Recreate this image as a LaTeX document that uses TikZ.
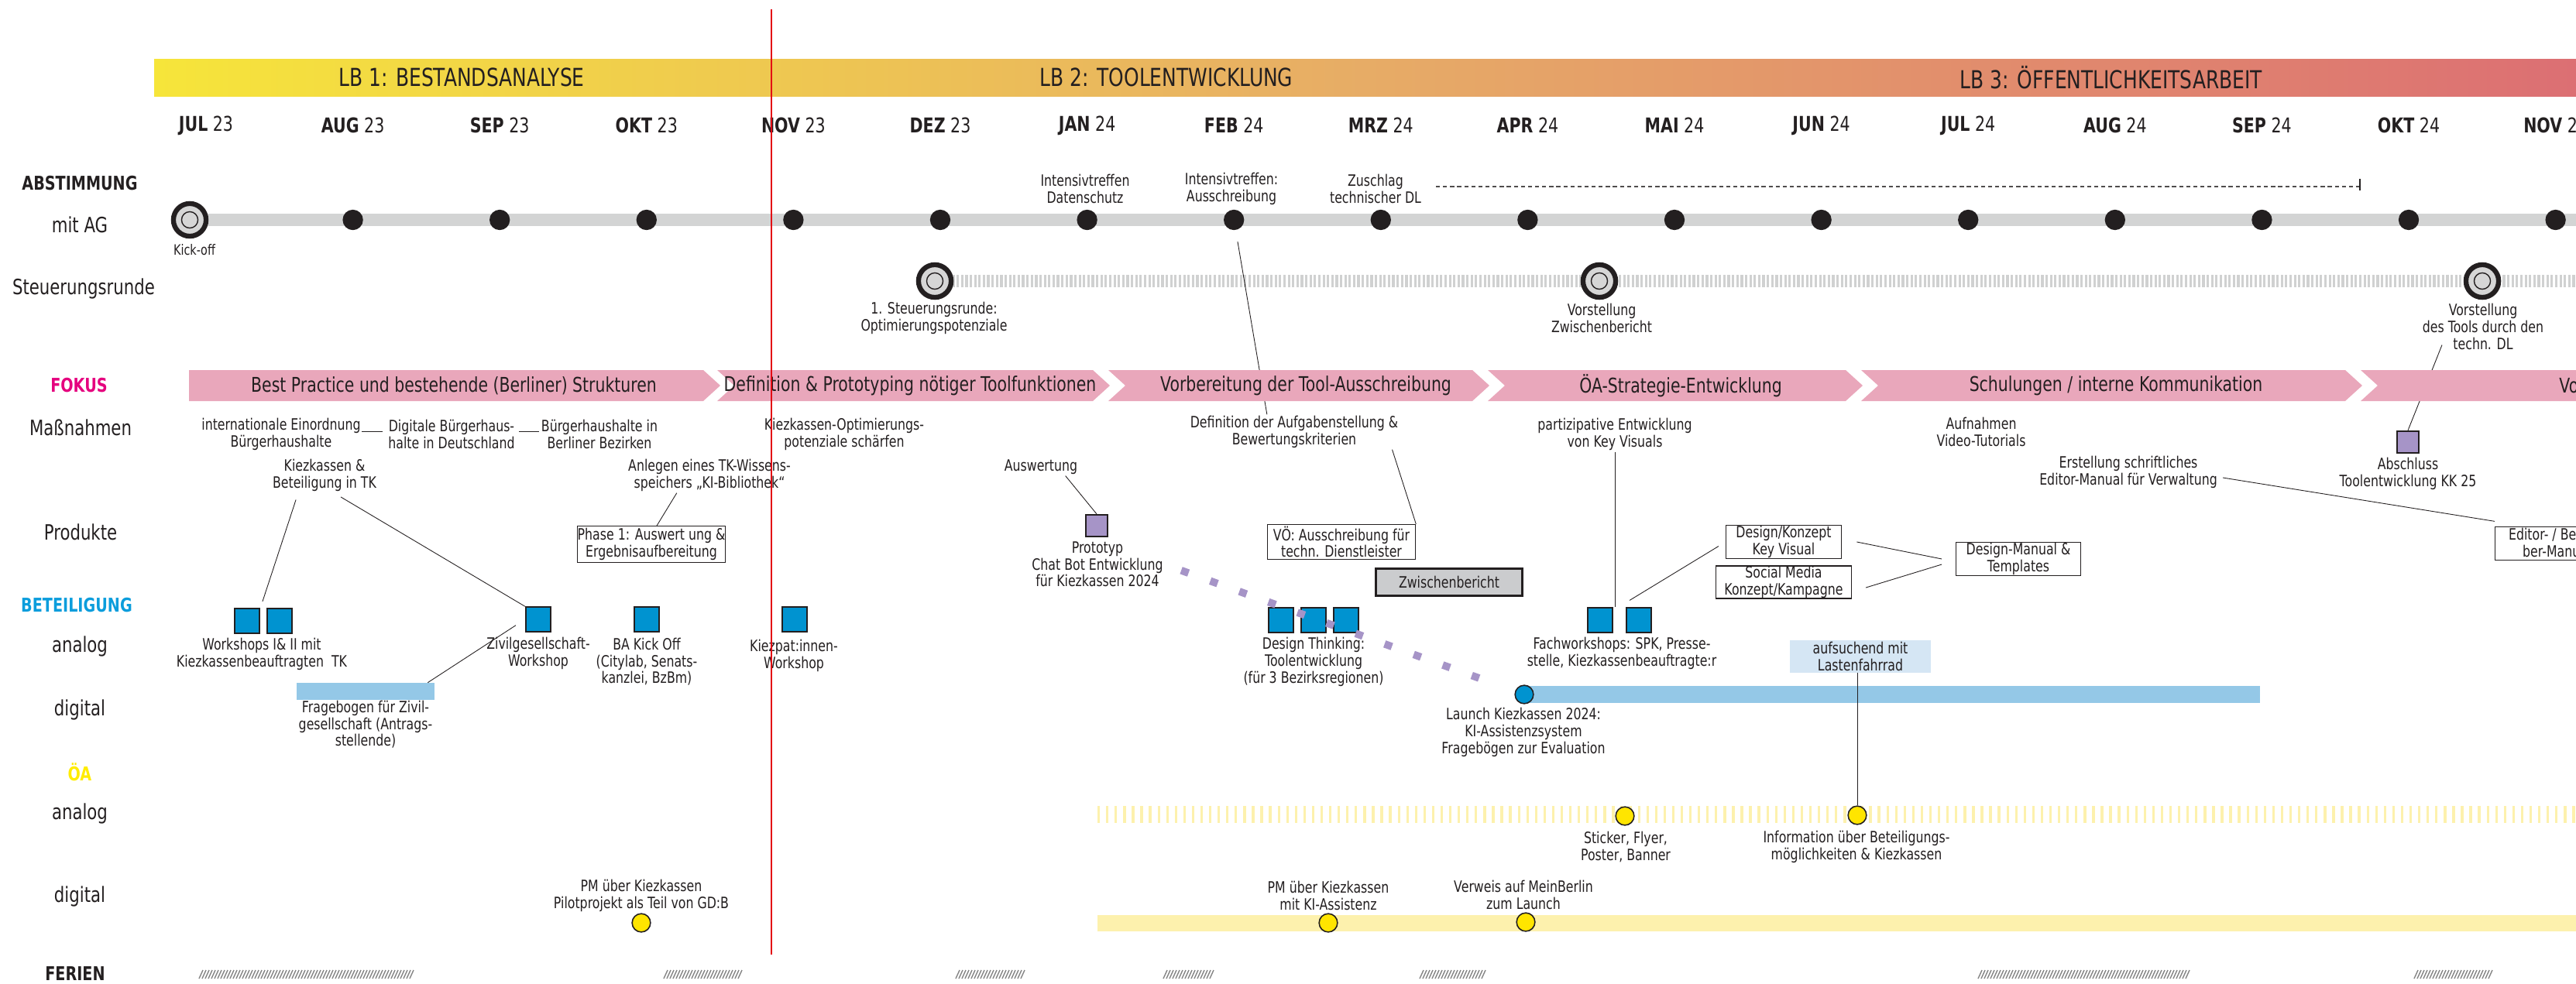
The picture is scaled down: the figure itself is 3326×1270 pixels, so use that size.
\documentclass[tikz,border=0pt]{standalone}
\usepackage{fontspec}
\setmainfont{DejaVu Sans}[FakeStretch=0.78]
\usetikzlibrary{positioning}

\definecolor{tx}{HTML}{231F20}
\definecolor{agrau}{HTML}{D3D4D4}
\definecolor{sgrau}{HTML}{D0D1D1}
\definecolor{zielgrau}{HTML}{D6D6D6}
\definecolor{rosa}{HTML}{E9A7BB}
\definecolor{blau}{HTML}{0093D0}
\definecolor{hellblau}{HTML}{94C8E7}
\definecolor{lastblau}{HTML}{D5E6F4}
\definecolor{lila}{HTML}{A694C7}
\definecolor{gelb}{HTML}{FFE500}
\definecolor{blassgelb}{HTML}{FDF1AD}
\definecolor{fokmag}{HTML}{E5007E}
\definecolor{betcyan}{HTML}{0B9DDC}
\definecolor{oagelb}{HTML}{FFEC00}
\definecolor{rot}{HTML}{E30613}
\definecolor{schraffur}{HTML}{858585}
\definecolor{boxgrau}{HTML}{CBCCCE}
\definecolor{lbgelb}{HTML}{F6E53A}
\definecolor{lborange}{HTML}{E7AC66}
\definecolor{lbrot}{HTML}{DC6F73}

\newcommand\fbody{\fontsize{11.5}{12.3}\selectfont}
\newcommand\fklein{\fontsize{10.5}{12}\selectfont}
\newcommand\freihe{\fontsize{15.5}{17}\selectfont}
\newcommand\freihefett{\fontsize{14}{16}\selectfont\bfseries}
\newcommand\fmonat{\fontsize{15}{17}\selectfont}
\newcommand\ffokus{\fontsize{14.9}{17}\selectfont}
\newcommand\fkopf{\fontsize{18.2}{20}\selectfont}

\tikzset{
  txt/.style={font=\fbody, align=center, inner sep=1pt, text=tx},
  reihe/.style={font=\freihe, inner sep=0pt, text=tx},
  reihefett/.style={font=\freihefett, inner sep=0pt},
  monat/.style={font=\fmonat, text=tx},
  kopf/.style={font=\fkopf, text=tx},
  fok/.style={font=\ffokus, text=tx},
  kasten/.style={draw=tx, line width=0.6pt, fill=white, font=\fbody, align=center, inner sep=0pt, text=tx},
  quad/.style={draw=tx, line width=1.1pt, fill=blau, minimum width=18.5pt, minimum height=18pt, inner sep=0pt},
  lquad/.style={quad, fill=lila, minimum width=16pt, minimum height=16pt},
  punkt/.style={circle, fill=tx, minimum size=15pt, inner sep=0pt},
  gpunkt/.style={circle, draw=tx, line width=0.9pt, fill=gelb, minimum size=13.5pt, inner sep=0pt},
  bpunkt/.style={gpunkt, fill=blau},
  ziel/.style={circle, draw=tx, line width=3.6pt, fill=zielgrau, minimum size=24pt, inner sep=0pt,
    path picture={\draw[tx, line width=0.8pt] (path picture bounding box.center) circle (6pt);}},
  verb/.style={draw=tx, line width=0.5pt},
}

\begin{document}
\begin{tikzpicture}[x=0.2mm, y=-0.2mm]
\useasboundingbox (0,0) rectangle (3326,1270);
\clip (0,0) rectangle (3326,1270);

% Kopfzeile
\shade[left color=lbgelb, right color=lbrot, middle color=lborange] (199,76) rectangle (3326,124);
\node[kopf] (lb1) at (596,100) {LB 1: BESTANDSANALYSE};
\node[kopf] (lb2) at (1506,100) {LB 2: TOOLENTWICKLUNG};
\node[kopf] (lb3) at (2726,100) {LB 3: ÖFFENTLICHKEITSARBEIT};

\foreach \mo/\ja [count=\i from 0] in {JUL/23, AUG/23, SEP/23, OKT/23, NOV/23, DEZ/23, JAN/24, FEB/24, MRZ/24, APR/24, MAI/24, JUN/24, JUL/24, AUG/24, SEP/24, OKT/24, NOV/24}
  \node[monat] (m\i) at ({266+189.6*\i},162) {\textbf{\mo} \ja};

% Zeilen
\node[reihefett, text=tx] (rAbst) at (103,237) {ABSTIMMUNG};
\node[reihe] (rAG) at (103,290) {mit AG};
\node[reihe] (rSteu) at (108,373) {Steuerungsrunde};
\node[reihefett, text=fokmag] (rFok) at (102,498) {FOKUS};
\node[reihe] (rMass) at (104,552) {Maßnahmen};
\node[reihe] (rProd) at (104,687) {Produkte};
\node[reihefett, text=betcyan] (rBet) at (99,782) {BETEILIGUNG};
\node[reihe] (rAna) at (103,835) {analog};
\node[reihe] (rDig) at (103,917) {digital};
\node[reihefett, text=oagelb] (rOA) at (103,997) {ÖA};
\node[reihe] (rAna2) at (103,1051) {analog};
\node[reihe] (rDig2) at (103,1158) {digital};
\node[reihefett, text=tx] (rFer) at (97,1258) {FERIEN};

% Abstimmung mit AG
\draw[agrau, line width=9.1pt] (245,284) -- (3326,284);
\node[ziel] (kick) at (245,284) {};
\node[txt, font=\fklein] (kickl) at (251,323) {Kick-off};
\foreach \i in {1,...,16}
  \node[punkt] (ag\i) at ({266+189.6*\i},284) {};
\node[txt] (intD) at (1401,244) {Intensivtreffen\\Datenschutz};
\node[txt] (intA) at (1590,244) {Intensivtreffen:\\Ausschreibung};
\node[txt] (zus) at (1776,244) {Zuschlag\\technischer DL};
\draw[tx!80, line width=0.6pt, dash pattern=on 3pt off 2.2pt] (1854,241) -- (3047,241);
\draw[tx, line width=1.4pt] (3047,231) -- (3047,246);

% Steuerungsrunde
\draw[sgrau, line width=9.1pt, dash pattern=on 1.8pt off 1.4pt] (1207,363) -- (3326,363);
\node[ziel] (sr1) at (1207,363) {};
\node[ziel] (sr2) at (2065,363) {};
\node[ziel] (sr3) at (3205,363) {};
\node[txt] (sr1l) at (1206,411) {1. Steuerungsrunde:\\Optimierungspotenziale};
\node[txt] (sr2l) at (2068,411) {Vorstellung\\Zwischenbericht};
\node[txt] (sr3l) at (3206,422) {Vorstellung\\des Tools durch den\\techn. DL};

% Massnahmen und Produkte
\node[txt] (intl) at (363,561) {internationale Einordnung\\Bürgerhaushalte};
\node[txt] (digB) at (583,561) {Digitale Bürgerhaus-\\halte in Deutschland};
\node[txt] (bzb) at (774,561) {Bürgerhaushalte in\\Berliner Bezirken};
\draw[verb] (467,557) -- (494,557);
\draw[verb] (670,557) -- (696,557);
\node[txt] (kiez) at (419,614) {Kiezkassen \&\\Beteiligung in TK};
\node[txt] (anl) at (916,614) {Anlegen eines TK-Wissens-\\speichers „KI-Bibliothek“};
\node[txt] (kop) at (1090,561) {Kiezkassen-Optimierungs-\\potenziale schärfen};
\node[txt] (ausw) at (1344,603) {Auswertung};
\node[txt] (defin) at (1671,558) {Definition der Aufgabenstellung \&\\Bewertungskriterien};
\node[txt] (partiz) at (2085,561) {partizipative Entwicklung\\von Key Visuals};
\node[txt] (aufn) at (2558,558) {Aufnahmen\\Video-Tutorials};
\node[txt] (erst) at (2748,610) {Erstellung schriftliches\\Editor-Manual für Verwaltung};
\node[lquad] (absch) at (3109,571) {};
\node[txt] (abschl) at (3109,612) {Abschluss\\Toolentwicklung KK 25};

\node[kasten, minimum width=108pt, minimum height=26.7pt] (ph1) at (841,703) {Phase 1: Auswert ung \&\\Ergebnisaufbereitung};
\node[lquad] (proto) at (1416,679) {};
\node[txt] (protol) at (1417,729) {Prototyp\\Chat Bot Entwicklung\\für Kiezkassen 2024};
\node[kasten, minimum width=109pt, minimum height=25.6pt] (voe) at (1732,700) {VÖ: Ausschreibung für\\techn. Dienstleister};
\node[kasten, fill=boxgrau, line width=1.6pt, minimum width=107.5pt, minimum height=19.5pt] (zwb) at (1871,752) {Zwischenbericht};
\node[kasten, minimum width=84.8pt, minimum height=24.5pt] (dk) at (2303,700) {Design/Konzept\\Key Visual};
\node[kasten, minimum width=100pt, minimum height=23.9pt] (sm) at (2303,752) {Social Media\\Konzept/Kampagne};
\node[kasten, minimum width=92pt, minimum height=24.5pt] (dm) at (2606,722) {Design-Manual \&\\Templates};
\node[kasten, anchor=west, minimum width=80pt, minimum height=24pt] (ed) at (3221,702) {};
\node[txt, anchor=west] (edt1) at (3237,691) {Editor- / Be};
\node[txt, anchor=west] (edt2) at (3255,712) {ber-Manu};

\draw[verb, shorten <=8.5pt] (ag7) -- ([xshift=-20pt]defin.north);
\draw[verb] (sr3l.south) ++(-53,-8) -- (absch.north);

% Fokus
\fill[rosa] (244,478) -- (908,478) -- (930,498) -- (908,518) -- (244,518) -- cycle;
\foreach \l/\r in {926/1411, 1431/1901, 1921/2383, 2403/3028}
  \fill[rosa] (\l,478) -- (\r,478) -- (\r+22,498) -- (\r,518) -- (\l,518) -- (\l+22,498) -- cycle;
\fill[rosa] (3048,478) -- (3340,478) -- (3340,518) -- (3048,518) -- (3070,498) -- cycle;
\node[fok] (fk1) at (586,498) {Best Practice und bestehende (Berliner) Strukturen};
\node[fok] (fk2) at (1175,498) {Definition \& Prototyping nötiger Toolfunktionen};
\node[fok] (fk3) at (1686,498) {Vorbereitung der Tool-Ausschreibung};
\node[fok] (fk4) at (2170,498) {ÖA-Strategie-Entwicklung};
\node[fok] (fk5) at (2732,498) {Schulungen / interne Kommunikation};
\node[fok, anchor=west, inner sep=0pt] (fk6) at (3304,498) {Vo};

% Beteiligung analog
\node[quad] (ws1) at (319,802) {};
\node[quad] (ws2) at (361,802) {};
\node[quad] (ziv) at (695,800) {};
\node[quad] (ba) at (835,800) {};
\node[quad] (kp) at (1026,800) {};
\node[quad] (dt1) at (1654,801) {};
\node[quad] (dt2) at (1696,801) {};
\node[quad] (dt3) at (1738,801) {};
\node[quad] (fw1) at (2066,801) {};
\node[quad] (fw2) at (2116,801) {};
\node[txt] (wsl) at (338,845) {Workshops I\& II mit\\Kiezkassenbeauftragten~ TK};
\node[txt] (zivl) at (695,844) {Zivilgesellschaft-\\Workshop};
\node[txt] (bal) at (835,855) {BA Kick Off\\(Citylab, Senats-\\kanzlei, BzBm)};
\node[txt] (kpl) at (1025,847) {Kiezpat:innen-\\Workshop};
\node[txt] (dtl) at (1696,855) {Design Thinking:\\Toolentwicklung\\(für 3 Bezirksregionen)};
\node[txt] (fwl) at (2094,844) {Fachworkshops: SPK, Presse-\\stelle, Kiezkassenbeauftragte:r};

% Beteiligung digital
\node[fill=hellblau, minimum width=101pt, minimum height=12.5pt, inner sep=0pt] (fb) at (472,893) {};
\node[txt] (fbl) at (472,936) {Fragebogen für Zivil-\\gesellschaft (Antrags-\\stellende)};
\fill[hellblau] (1968,886) rectangle (2918,908);
\node[bpunkt] (launch) at (1968,897) {};
\node[txt] (lal) at (1967,946) {Launch Kiezkassen 2024:\\KI-Assistenzsystem\\Fragebögen zur Evaluation};
\node[fill=lastblau, minimum width=104pt, minimum height=24pt, inner sep=0pt, font=\fbody, align=center, text=tx] (lb) at (2402,848) {aufsuchend mit\\Lastenfahrrad};

% OeA
\draw[blassgelb, line width=12pt, dash pattern=on 1.9pt off 4.4pt] (1417,1052) -- (3326,1052);
\fill[blassgelb] (1417,1182) rectangle (3326,1203);
\node[gpunkt] (stick) at (2098,1054) {};
\node[gpunkt] (info) at (2398,1053) {};
\node[txt] (stl) at (2099,1094) {Sticker, Flyer,\\Poster, Banner};
\node[txt] (infl) at (2397,1094) {Information über Beteiligungs-\\möglichkeiten \& Kiezkassen};
\node[gpunkt] (pm1) at (828,1192) {};
\node[gpunkt] (pm2) at (1715,1192) {};
\node[gpunkt] (verw) at (1970,1191) {};
\node[txt] (pm1l) at (828,1157) {PM über Kiezkassen\\Pilotprojekt als Teil von GD:B};
\node[txt] (pm2l) at (1715,1157) {PM über Kiezkassen\\mit KI-Assistenz};
\node[txt] (verwl) at (1967,1156) {Verweis auf MeinBerlin\\zum Launch};

% Verbindungen
\draw[verb, shorten >=5pt] ([xshift=-21pt, yshift=-5pt]kiez.south) -- (ws1.north east);
\draw[verb] ([xshift=12pt, yshift=-3pt]kiez.south) -- (ziv.north west);
\draw[verb, shorten >=8pt] ([xshift=-5pt]fb.north east) -- (ziv.west);
\draw[verb] ([xshift=-24pt]anl.south) -- ([xshift=4pt]ph1.north);
\draw[verb] ([xshift=18pt]ausw.south) -- (proto.north);
\draw[verb] ([xshift=72pt]defin.south) -- (voe.north east);
\draw[verb] (partiz.south) -- (partiz.south |- fw1.north);
\draw[verb, shorten >=6pt] ([xshift=3pt, yshift=5pt]fw2.north west) -- (dk.west);
\draw[verb] ([xshift=11pt]dk.east) -- ([xshift=-10pt]dm.west);
\draw[verb] ([xshift=10pt, yshift=-4pt]sm.east) -- ([xshift=-10pt, yshift=-4pt]dm.west);
\draw[verb] ([xshift=3pt, yshift=-4pt]erst.east) -- ([yshift=4pt]ed.north west);
\draw[verb] (lb.south -| info) -- (info.north);
\draw[lila, line width=5.5pt, dash pattern=on 5.7pt off 17pt, shorten <=13pt, shorten >=15pt] (protol.east) -- (launch);

% Ferien
\foreach \a/\n in {257/68, 857/24, 1234/21, 1502/15, 1833/20, 2554/67, 3117/24}
  \foreach \k in {0,...,\n}
    \draw[schraffur, line width=0.8pt] ({\a+4*\k},1264) -- ++(5,-11);

% Stichtag
\draw[rot, line width=1.5pt] (996,12) -- (996,1233);
\end{tikzpicture}
\end{document}
